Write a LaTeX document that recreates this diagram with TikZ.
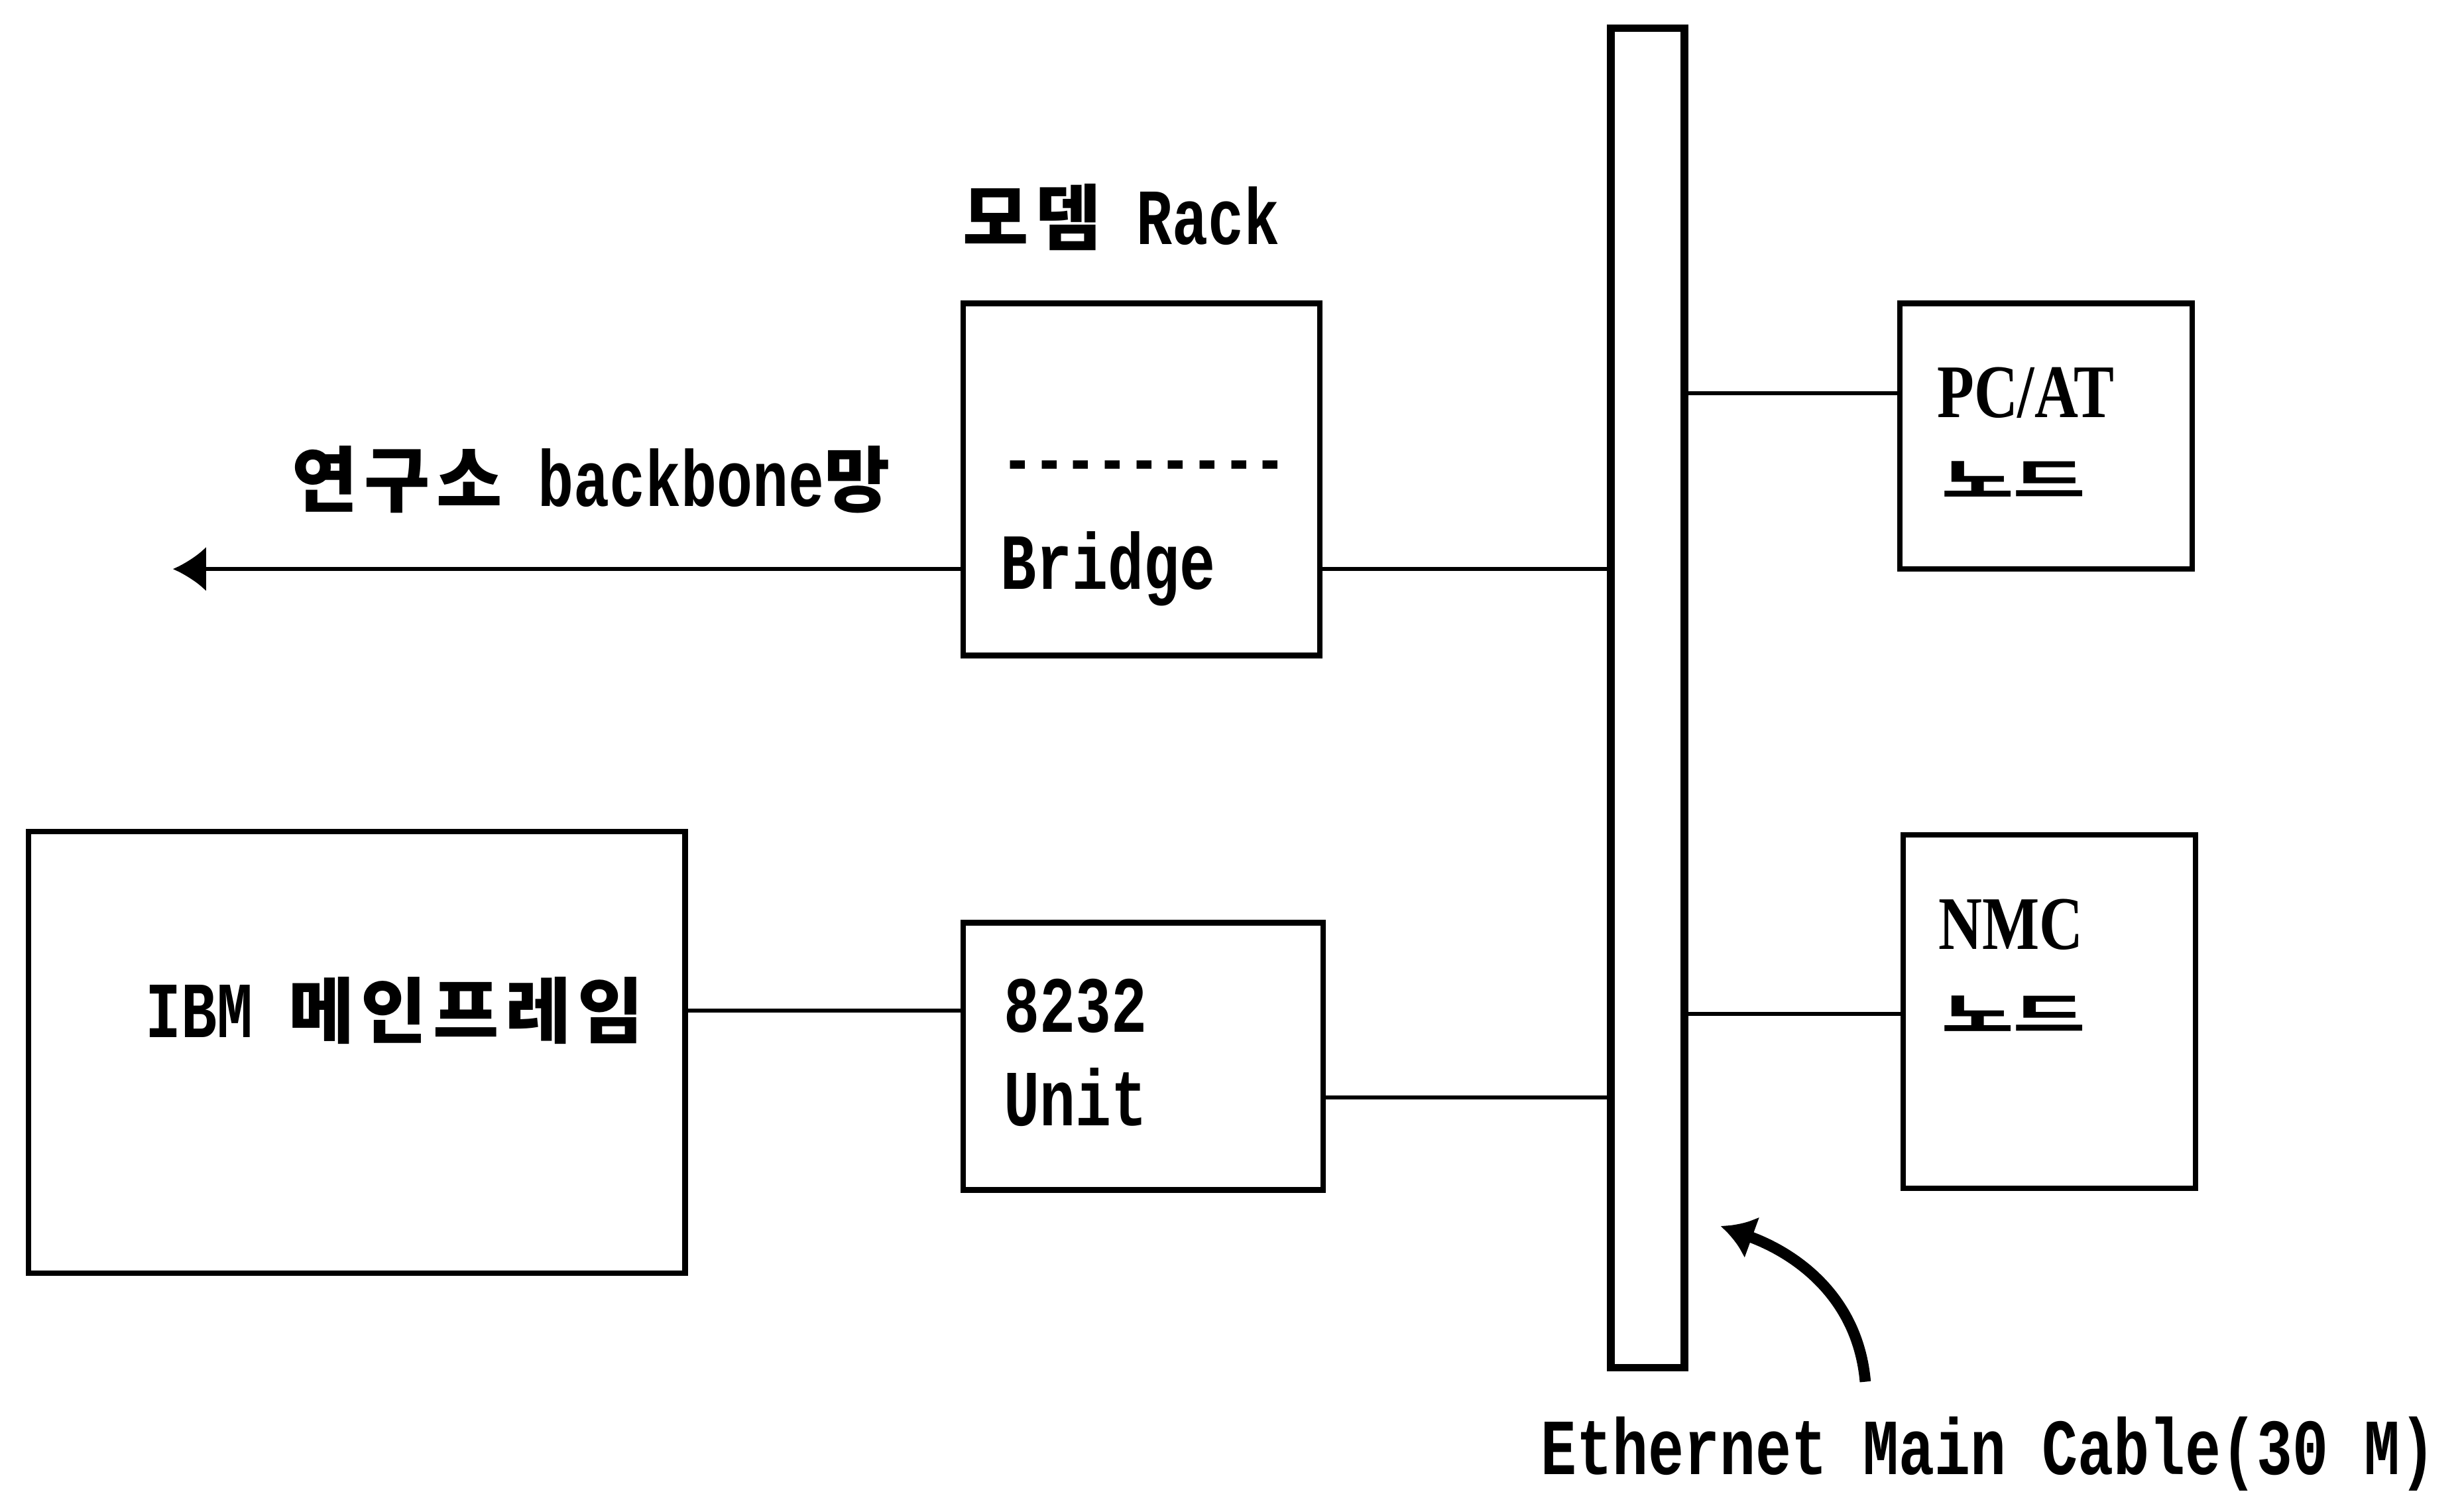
\documentclass[tikz,border=0pt]{standalone}
\usepackage{fontspec}
\usepackage{tikz}
\usetikzlibrary{arrows.meta}
\setmonofont[FakeStretch=0.75]{Liberation Mono}
\newfontfamily\krfont[Scale=0.9, LetterSpace=9]{Noto Sans CJK KR}
\newfontfamily\krwide[FakeStretch=1.7]{Noto Sans CJK KR}
\newfontfamily\serifcond[FakeStretch=0.8]{Liberation Serif}
\pgfdeclarelayer{edgelayer}
\pgfdeclarelayer{nodelayer}
\pgfsetlayers{edgelayer,nodelayer,main}
\tikzstyle{none}=[inner sep=0pt, anchor=west, font=\fontsize{14.4}{16}\selectfont\ttfamily\bfseries]
\tikzstyle{box}=[rectangle, draw=black, line width=1pt, inner sep=0pt]
\tikzstyle{cable}=[rectangle, draw=black, line width=1.4pt, inner sep=0pt, minimum width=0.47cm, minimum height=8.52cm]
\tikzstyle{edge}=[draw=black, line width=0.7pt]
\tikzstyle{node text}=[inner sep=0pt, anchor=west, font=\fontsize{13.7}{16}\selectfont\serifcond\bfseries]
\tikzstyle{node kr}=[inner sep=0pt, anchor=west, font=\fontsize{8.3}{10}\selectfont\krwide\bfseries]

\begin{document}
\begin{tikzpicture}
				\useasboundingbox (0, 0) rectangle (15.68, 9.5);
				\begin{pgfonlayer}{nodelayer}
					\node [style=cable] (0) at (10.485, 5.06) {};
					\node [style=box, minimum width=2.27cm, minimum height=2.24cm] (1) at (7.265, 6.45) {};
					\node [style=box, minimum width=1.86cm, minimum height=1.69cm] (2) at (13.02, 6.725) {};
					\node [style=box, minimum width=1.86cm, minimum height=2.25cm] (3) at (13.04, 3.065) {};
					\node [style=box, minimum width=4.18cm, minimum height=2.81cm] (4) at (2.27, 2.805) {};
					\node [style=box, minimum width=2.29cm, minimum height=1.70cm] (5) at (7.275, 2.78) {};
					\node [style=none] (6) at (6.12, 8.12) {{\krfont 모뎀} Rack};
					\node [style=none, font=\fontsize{12.7}{14}\selectfont\ttfamily\bfseries] (7) at (6.37, 6.50) {---------};
					\node [style=none] (8) at (6.36, 5.88) {Bridge};
					\node [style=none] (9) at (1.85, 6.45) {{\krfont 연구소} backbone{\krfont 망}};
					\node [style=node text] (10) at (12.32, 7.00) {PC/AT};
					\node [style=node kr] (11) at (12.35, 6.45) {노드};
					\node [style=node text] (12) at (12.33, 3.62) {NMC};
					\node [style=node kr] (13) at (12.35, 3.05) {노드};
					\node [style=none] (14) at (0.92, 3.07) {IBM {\krfont 메인프레임}};
					\node [style=none] (15) at (6.38, 3.10) {8232};
					\node [style=none] (16) at (6.38, 2.52) {Unit};
					\node [style=none] (17) at (9.80, 0.25) {Ethernet Main Cable(30 M)};
					\coordinate (18) at (1.10, 5.88);
					\coordinate (19) at (11.87, 0.71);
					\coordinate (20) at (10.95, 1.70);
				\end{pgfonlayer}
				\begin{pgfonlayer}{edgelayer}
					\draw [style=edge] (1.east |- 8) to (0.west |- 8);
					\draw [style=edge, -{Latex[length=6pt, width=8pt]}] (1.west |- 8) to (18);
					\draw [style=edge] (0.east |- 10) to (2.west |- 10);
					\draw [style=edge] (0.east |- 13) to (3.west |- 13);
					\draw [style=edge] (4.east |- 14) to (5.west |- 14);
					\draw [style=edge] (5.east |- 16) to (0.west |- 16);
					\draw [line width=2pt, -{Latex[length=6pt, width=8pt]}, out=95, in=-20] (19) to (20);
				\end{pgfonlayer}
			\end{tikzpicture}
\end{document}
